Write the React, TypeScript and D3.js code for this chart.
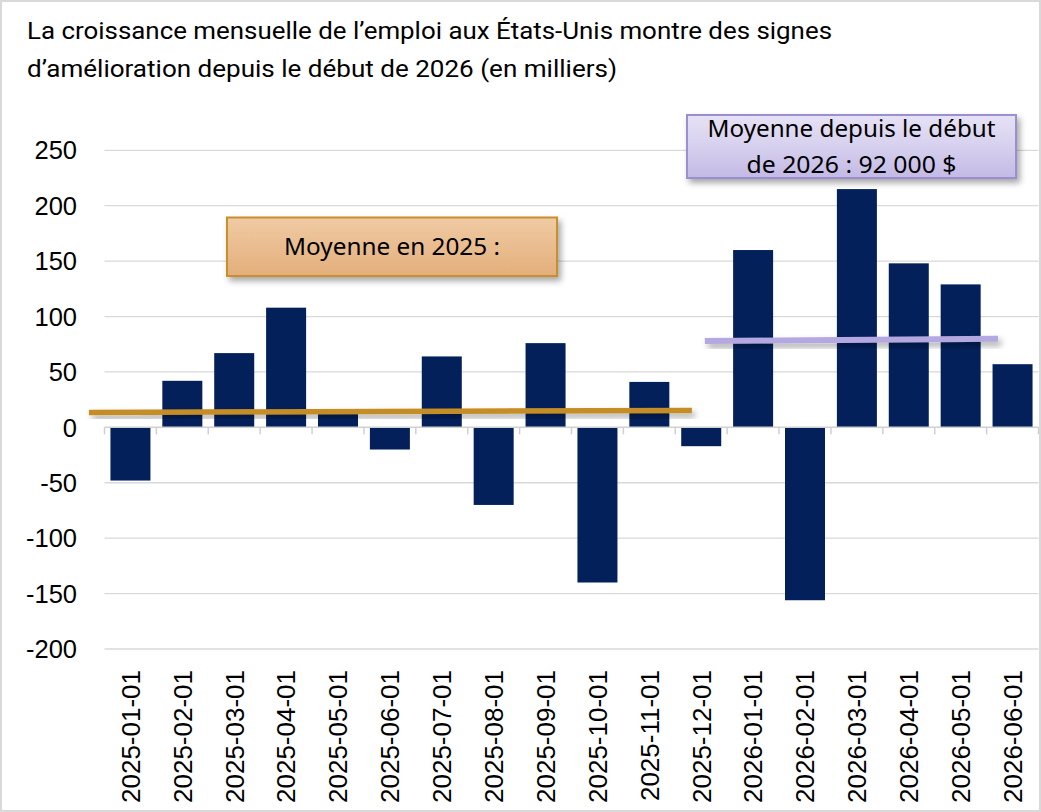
import React from "react";
import * as d3 from "d3";

// Monthly US payroll change, thousands of jobs
const months = [
  "2025-01-01", "2025-02-01", "2025-03-01", "2025-04-01", "2025-05-01", "2025-06-01",
  "2025-07-01", "2025-08-01", "2025-09-01", "2025-10-01", "2025-11-01", "2025-12-01",
  "2026-01-01", "2026-02-01", "2026-03-01", "2026-04-01", "2026-05-01", "2026-06-01",
];
const jobGrowth = [-48, 42, 67, 108, 14, -20, 64, -70, 76, -140, 41, -17, 160, -156, 215, 148, 129, 57];
const yTicks = [-200, -150, -100, -50, 0, 50, 100, 150, 200, 250];

const titleLines = [
  "La croissance mensuelle de l’emploi aux États-Unis montre des signes",
  "d’amélioration depuis le début de 2026 (en milliers)",
];

// Hand-placed average markers: start/end in category-index units, level in thousands
const avg2025Span = [-0.3, 11.32];
const avg2025Level = [13.5, 15.3];
const avg2026Span = [11.57, 17.22];
const avg2026Level = [77.9, 80];

const note2025 = ["Moyenne en 2025 :"];
const note2026 = ["Moyenne depuis le début", "de 2026 : 92 000 $"];

const W = 1041;
const H = 812;
const plot = { left: 104.5, right: 1038.5, top: 150.3, bottom: 649 };

export default function App() {
  const x = d3
    .scaleBand<string>()
    .domain(months)
    .range([plot.left, plot.right])
    .paddingInner(0.229)
    .paddingOuter(0.1145);
  const xi = d3.scaleLinear().domain([0, months.length]).range([plot.left, plot.right]);
  const y = d3.scaleLinear().domain([-200, 250]).range([plot.bottom, plot.top]);

  const axisFont = "'Liberation Sans', Arial, sans-serif";
  const noteFont = "'Noto Sans', 'Open Sans', sans-serif";
  const line = d3.line<[number, number]>();

  const seg = (span: number[], level: number[]) =>
    line([
      [xi(span[0]), y(level[0])],
      [xi(span[1]), y(level[1])],
    ]) as string;

  return (
    <svg
      width={W}
      height={H}
      viewBox={`0 0 ${W} ${H}`}
      style={{ position: "absolute", left: 0, top: 0, background: "#fff" }}
    >
      <defs>
        <filter id="lineShadow" x="-10%" y="-300%" width="120%" height="700%">
          <feDropShadow dx="3" dy="4" stdDeviation="3" floodColor="#000" floodOpacity="0.35" />
        </filter>
        <filter id="boxShadow" x="-10%" y="-30%" width="120%" height="170%">
          <feDropShadow dx="3" dy="4" stdDeviation="3" floodColor="#000" floodOpacity="0.35" />
        </filter>
        <linearGradient id="peach" x1="0" y1="0" x2="0" y2="1">
          <stop offset="0" stopColor="#F0CBA4" />
          <stop offset="1" stopColor="#E3AE7B" />
        </linearGradient>
        <linearGradient id="lilac" x1="0" y1="0" x2="0" y2="1">
          <stop offset="0" stopColor="#E6E2F5" />
          <stop offset="0.5" stopColor="#D6D0EE" />
          <stop offset="1" stopColor="#C3B9E5" />
        </linearGradient>
      </defs>

      <rect x={1} y={1} width={W - 2} height={H - 2} fill="#fff" stroke="#D9D9D9" strokeWidth={2} />

      {/* title */}
      <g fontFamily="Roboto, 'Noto Sans', sans-serif" fontSize={24} fill="#000">
        <text x={27} y={39} textLength={805} lengthAdjust="spacingAndGlyphs">
          {titleLines[0]}
        </text>
        <text x={27} y={77} textLength={590} lengthAdjust="spacingAndGlyphs">
          {titleLines[1]}
        </text>
      </g>

      {/* gridlines and y labels */}
      <g>
        {yTicks.map((t) => (
          <g key={t}>
            {t !== 0 && (
              <line x1={plot.left} x2={plot.right} y1={y(t)} y2={y(t)} stroke="#D9D9D9" strokeWidth={1.3} />
            )}
            <text
              x={77}
              y={y(t)}
              dy="0.36em"
              textAnchor="end"
              fontFamily={axisFont}
              fontSize={25.5}
              fill="#000"
            >
              {t}
            </text>
          </g>
        ))}
      </g>

      {/* bars */}
      <g fill="#03205B">
        {months.map((m, i) => {
          const v = jobGrowth[i];
          return (
            <rect
              key={m}
              x={x(m)}
              width={x.bandwidth()}
              y={y(Math.max(0, v))}
              height={Math.abs(y(v) - y(0))}
            />
          );
        })}
      </g>

      {/* zero axis with category ticks */}
      <g stroke="#D0D0D0" strokeWidth={1.5}>
        <line x1={plot.left} x2={plot.right} y1={y(0)} y2={y(0)} />
        {d3.range(months.length + 1).map((i) => (
          <line key={i} x1={xi(i)} x2={xi(i)} y1={y(0)} y2={y(0) + 7} />
        ))}
      </g>

      {/* x labels */}
      <g fontFamily={axisFont} fontSize={26} fill="#000">
        {months.map((m) => {
          const cx = (x(m) as number) + x.bandwidth() / 2;
          return (
            <text
              key={m}
              transform={`translate(${cx},${plot.bottom + 21}) rotate(-90)`}
              textAnchor="end"
              dy="0.36em"
            >
              {m}
            </text>
          );
        })}
      </g>

      {/* average markers */}
      <path
        d={seg(avg2025Span, avg2025Level)}
        stroke="#C58D25"
        strokeWidth={5.5}
        fill="none"
        filter="url(#lineShadow)"
      />
      <path
        d={seg(avg2026Span, avg2026Level)}
        stroke="#B4A8E0"
        strokeWidth={6}
        fill="none"
        filter="url(#lineShadow)"
      />

      {/* callouts */}
      <g filter="url(#boxShadow)">
        <rect x={227} y={217.5} width={330} height={58.5} fill="url(#peach)" stroke="#C8902A" strokeWidth={2} />
      </g>
      <text
        x={392}
        y={255}
        textAnchor="middle"
        fontFamily={noteFont}
        fontSize={24}
        fill="#000"
        textLength={216}
        lengthAdjust="spacingAndGlyphs"
      >
        {note2025[0]}
      </text>

      <g filter="url(#boxShadow)">
        <rect x={687} y={115} width={329} height={63} fill="url(#lilac)" stroke="#9C8FCF" strokeWidth={2} />
      </g>
      <g fontFamily={noteFont} fontSize={24} fill="#000" textAnchor="middle">
        <text x={851.5} y={137} textLength={288} lengthAdjust="spacingAndGlyphs">
          {note2026[0]}
        </text>
        <text x={851.5} y={173} textLength={210} lengthAdjust="spacingAndGlyphs">
          {note2026[1]}
        </text>
      </g>
    </svg>
  );
}
